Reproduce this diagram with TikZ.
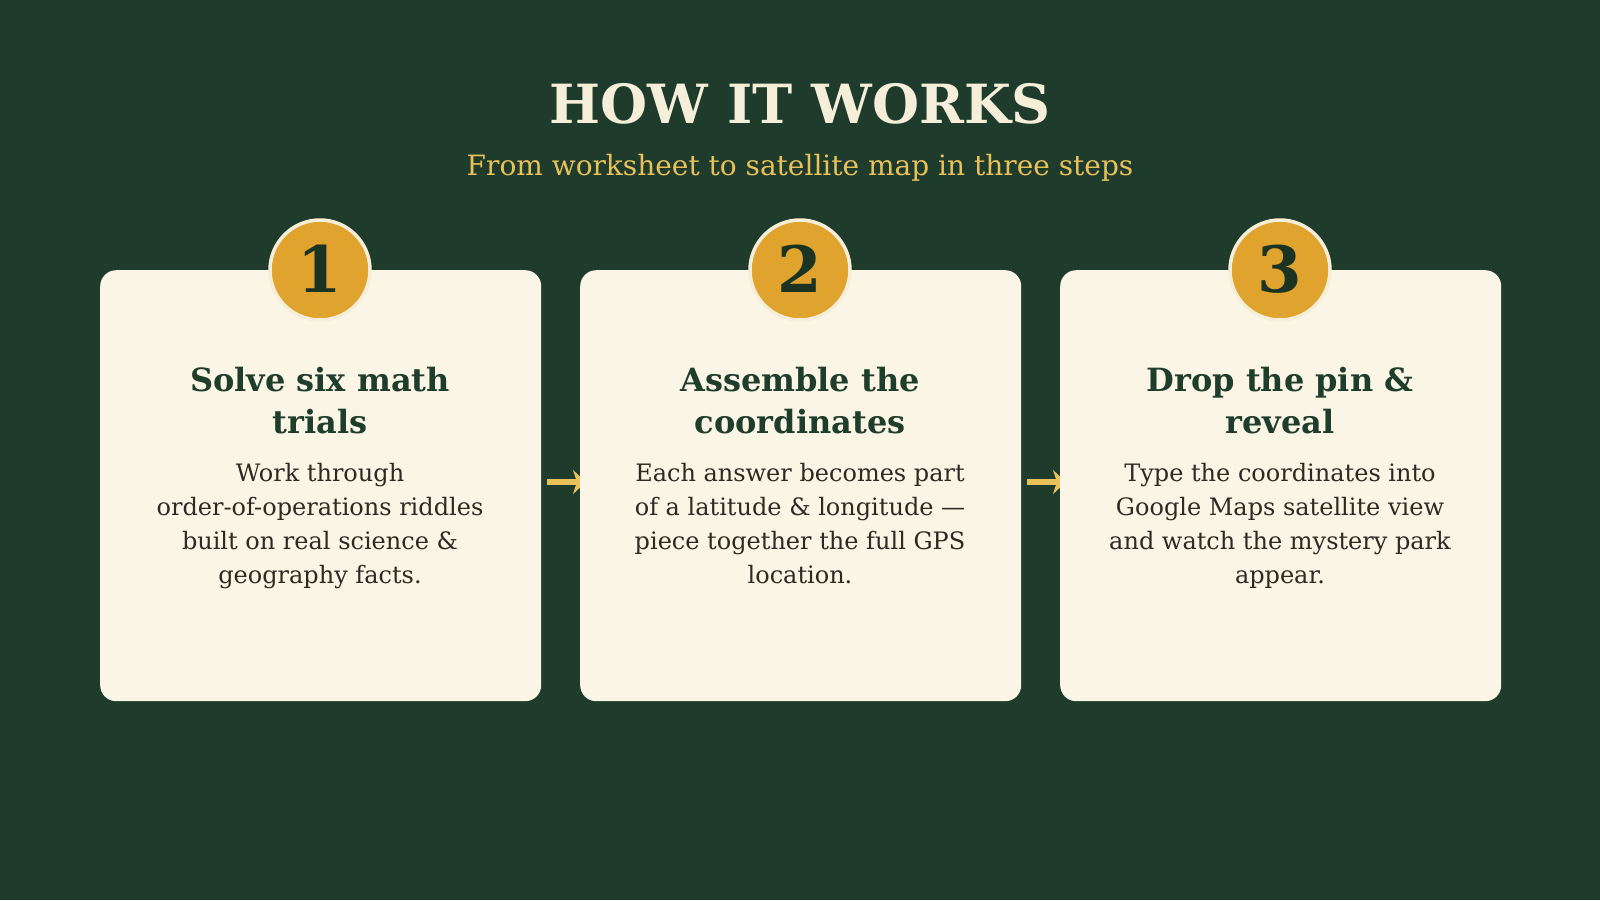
\documentclass[tikz,border=0pt]{standalone}
\usepackage{fontspec}
\setmainfont{DejaVu Serif}
\usetikzlibrary{arrows.meta}
\definecolor{bg}{HTML}{1F3B2B}
\definecolor{card}{HTML}{FBF5E6}
\definecolor{badge}{HTML}{E0A32E}
\definecolor{ring}{HTML}{F5EFD9}
\definecolor{titlec}{HTML}{F5EFDA}
\definecolor{subc}{HTML}{E8C15A}
\definecolor{headc}{HTML}{1F3D2B}
\definecolor{numc}{HTML}{1A3322}
\definecolor{bodyc}{HTML}{2E2A22}
\begin{document}
\begin{tikzpicture}[x=1pt,y=-1pt,
  cardbox/.style={fill=card,rounded corners=16pt,minimum width=441pt,minimum height=431pt,inner sep=0pt,anchor=north west},
  badgec/.style={circle,fill=badge,draw=ring,line width=3.5pt,minimum size=100pt,inner sep=0pt},
  numtext/.style={anchor=base,inner sep=0pt,text=numc,font=\fontsize{64}{64}\selectfont\bfseries},
  headtext/.style={anchor=base,inner sep=0pt,align=center,text=headc,font=\fontsize{32}{41.5}\selectfont\bfseries},
  bodytext/.style={anchor=base,inner sep=0pt,align=center,text=bodyc,font=\fontsize{24}{34}\selectfont},
  flowarrow/.style={draw=subc,line width=5.5pt,-{Stealth[length=13pt,width=24pt,inset=4pt]}}
]
\fill[bg] (0,0) rectangle (1600,900);
\useasboundingbox (0,0) rectangle (1600,900);
\node[anchor=base,inner sep=0pt,text=titlec,font=\fontsize{54}{54}\selectfont\bfseries] (title) at (800,123) {HOW IT WORKS};
\node[anchor=base,inner sep=0pt,text=subc,font=\fontsize{28}{28}\selectfont] (subtitle) at (800,175) {From worksheet to satellite map in three steps};
% cards
\node[cardbox] (c1) at (100,270) {};
\coordinate (a1s) at (547,482);
\coordinate (a1e) at (586,482);
\draw[flowarrow] (a1s) -- (a1e);
\node[cardbox] (c2) at (580,270) {};
\coordinate (a2s) at (1027,482);
\coordinate (a2e) at (1066,482);
\draw[flowarrow] (a2s) -- (a2e);
\node[cardbox] (c3) at (1060,270) {};
% badges
\node[badgec] (b1) at (320,270) {};
\node[numtext] (n1) at (320,292) {1};
\node[badgec] (b2) at (800,270) {};
\node[numtext] (n2) at (800,292) {2};
\node[badgec] (b3) at (1280,270) {};
\node[numtext] (n3) at (1280,292) {3};
% headings (base anchor = last line)
\node[headtext] (h1) at (320,433) {Solve six math\\trials};
\node[headtext] (h2) at (800,433) {Assemble the\\coordinates};
\node[headtext] (h3) at (1280,433) {Drop the pin \&\\reveal};
% body
\node[bodytext] (t1) at (320,583) {Work through\\order-of-operations riddles\\built on real science \&\\geography facts.};
\node[bodytext] (t2) at (800,583) {Each answer becomes part\\of a latitude \& longitude —\\piece together the full GPS\\location.};
\node[bodytext] (t3) at (1280,583) {Type the coordinates into\\Google Maps satellite view\\and watch the mystery park\\appear.};
\end{tikzpicture}
\end{document}
